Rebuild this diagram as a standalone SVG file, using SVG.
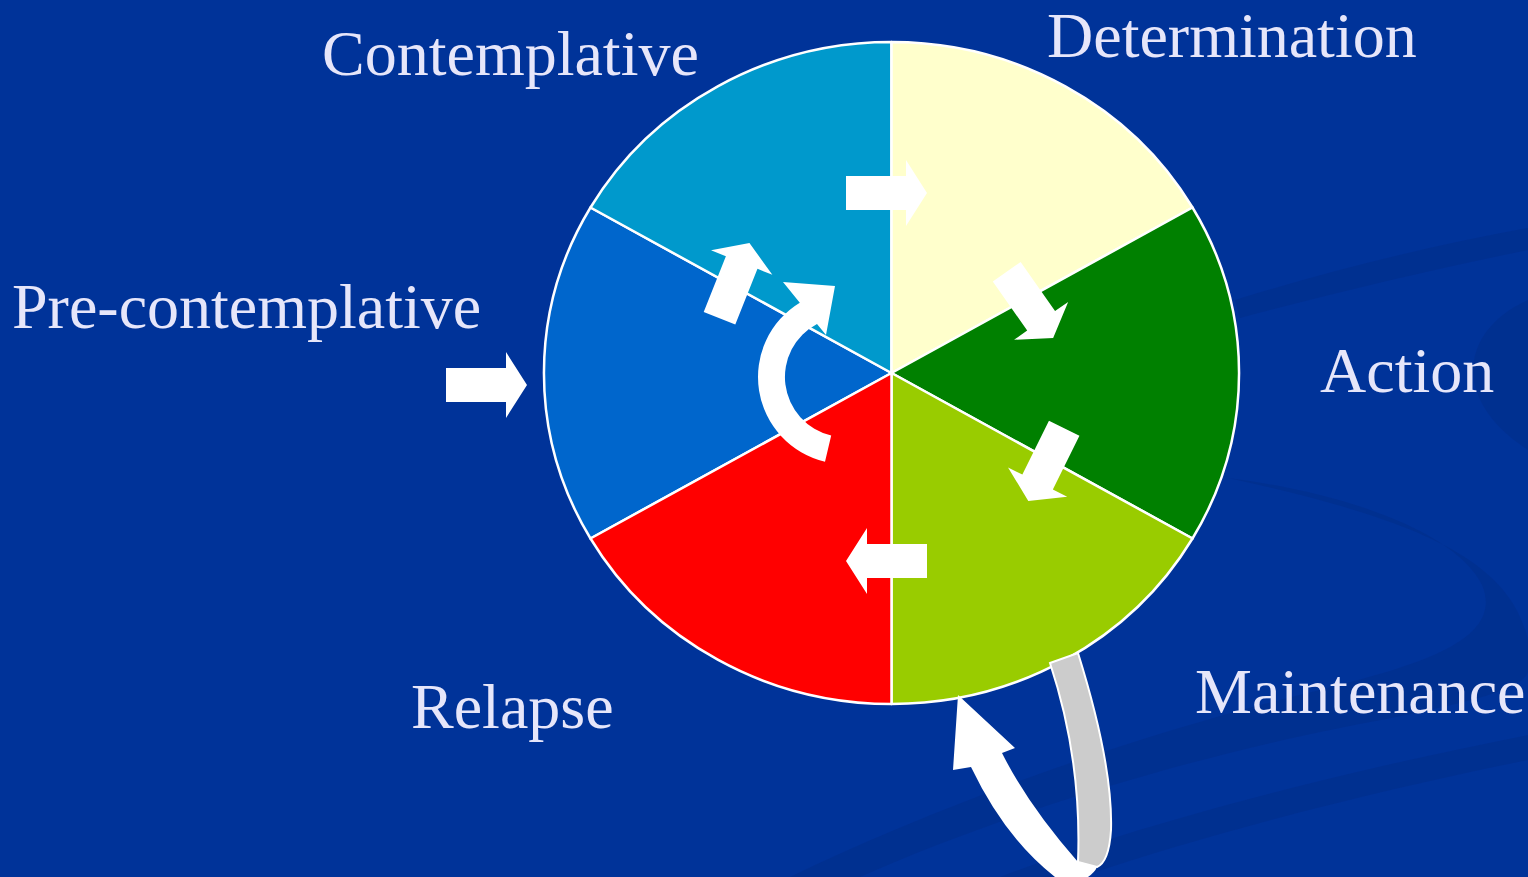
<svg xmlns="http://www.w3.org/2000/svg" width="1528" height="877" viewBox="0 0 1528 877">
<defs>
<style>
.wedge{stroke:#FFFFFF;stroke-width:2.5;stroke-linejoin:round}
.label{font-family:"Liberation Serif","Times New Roman",serif;font-size:64px;fill:#E6E6FA}
.arrow{fill:#FFFFFF}
.swirl{fill:#002A80;opacity:0.35}
</style>
<path id="blk" d="M0,-17 H60 V-33 L81,0 L60,33 V17 H0 Z"/>
</defs>
<rect width="1528" height="877" fill="#003399"/>
<g id="background">
<path class="swirl" d="M1235,300 Q1380,255 1528,228 L1528,250 Q1390,278 1240,318 Z"/>
<path class="swirl" d="M1228,478 C1340,492 1455,530 1482,585 C1505,640 1420,665 1320,690 C1150,730 950,800 790,877 L860,877 C1000,815 1180,760 1340,728 C1460,705 1528,690 1528,670 L1528,640 C1510,560 1420,520 1228,478 Z"/>
<path class="swirl" d="M1528,735 C1350,770 1150,820 1000,877 L1080,877 C1220,830 1380,790 1528,760 Z"/>
<path class="swirl" d="M1528,300 C1460,330 1450,400 1528,450 Z"/>
</g>
<g id="pre-contemplative">
<path class="wedge" fill="#0066CC" d="M891.5,373 L590.5,538.5 A347.5,331 0 0 1 590.5,207.5 Z"/>
<text class="label" x="12" y="328">Pre-contemplative</text>
</g>
<g id="contemplative">
<path class="wedge" fill="#0099CC" d="M891.5,373 L590.5,207.5 A347.5,331 0 0 1 891.5,42 Z"/>
<text class="label" x="322" y="75">Contemplative</text>
</g>
<g id="determination">
<path class="wedge" fill="#FFFFCC" d="M891.5,373 L891.5,42 A347.5,331 0 0 1 1192.5,207.5 Z"/>
<text class="label" x="1047" y="57">Determination</text>
</g>
<g id="action">
<path class="wedge" fill="#008000" d="M891.5,373 L1192.5,207.5 A347.5,331 0 0 1 1192.5,538.5 Z"/>
<text class="label" x="1320" y="392">Action</text>
</g>
<g id="maintenance">
<path class="wedge" fill="#99CC00" d="M891.5,373 L1192.5,538.5 A347.5,331 0 0 1 891.5,704 Z"/>
<text class="label" x="1195" y="713">Maintenance</text>
</g>
<g id="relapse">
<path class="wedge" fill="#FF0000" d="M891.5,373 L891.5,704 A347.5,331 0 0 1 590.5,538.5 Z"/>
<text class="label" x="411" y="728">Relapse</text>
</g>
<g id="connectors">
<use href="#blk" class="arrow" transform="translate(446,385)"/>
<use href="#blk" class="arrow" transform="translate(719.5,318.3) rotate(-68.3)"/>
<use href="#blk" class="arrow" transform="translate(846,193)"/>
<use href="#blk" class="arrow" transform="translate(1006.7,271.7) rotate(55)"/>
<use href="#blk" class="arrow" transform="translate(1064.2,428.3) rotate(116.3)"/>
<use href="#blk" class="arrow" transform="translate(927,561) rotate(180)"/>
<path class="arrow" d="M825,461.7 A87,87 0 0 1 799.8,302.7 L783,282 L835,286 L826,335 L817,323.9 A60,60 0 0 0 831.2,435.4 Z"/>
<path fill="#CCCCCC" stroke="#FFFFFF" stroke-width="2" d="M1050,663 L1078,653 Q1113,765 1111,830 Q1109,862 1097,867 L1078,862 Q1082,760 1050,663 Z"/>
<path class="arrow" d="M1078,862 Q1028,805 1002,753 L1015,748 L958,695 L953,770 L971,767 Q1005,838 1055,877 L1088,877 Q1095,872 1097,867 Z"/>
</g>
</svg>
